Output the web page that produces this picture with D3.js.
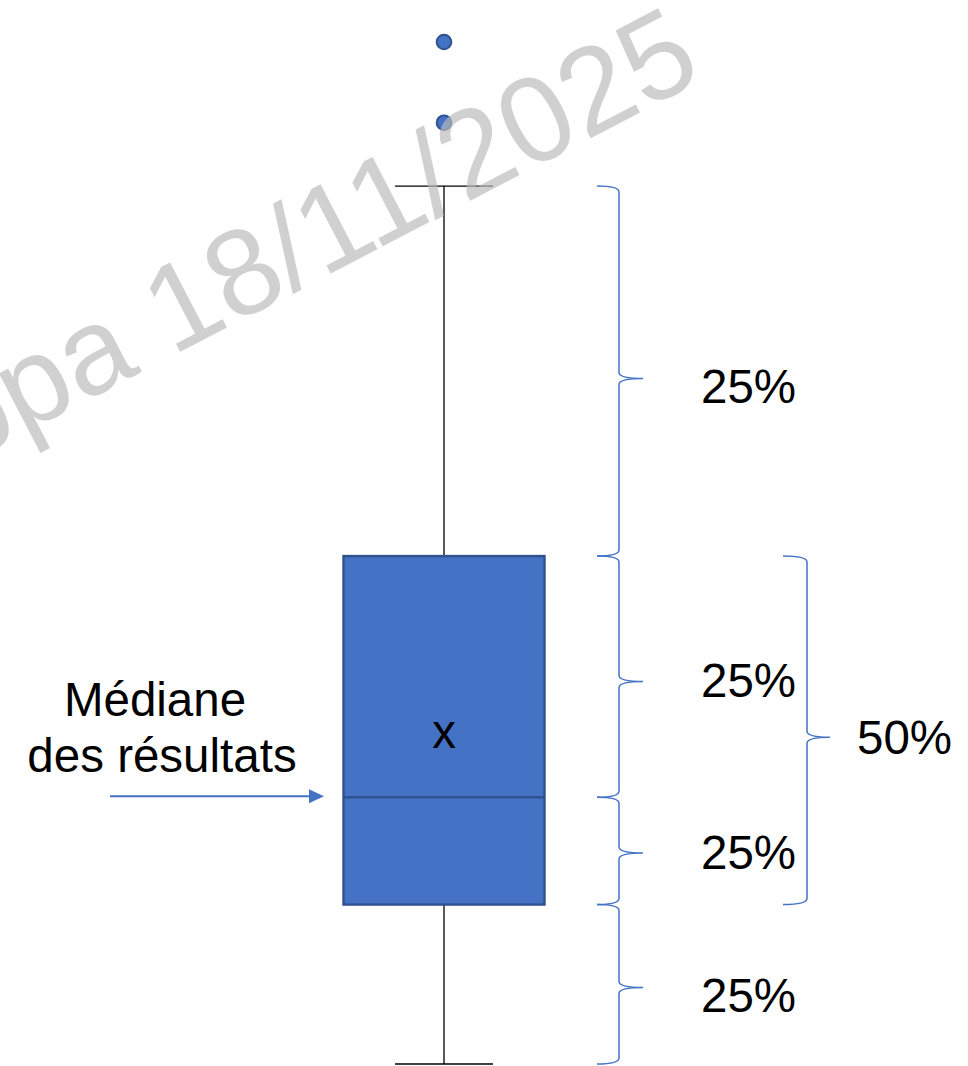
<!DOCTYPE html>
<html>
<head>
<meta charset="utf-8">
<script src="https://cdn.jsdelivr.net/npm/d3@7"></script>
<style>
  body { margin: 0; background: #fff; }
  text { font-family: "Liberation Sans", Arial, sans-serif; }
</style>
</head>
<body>
<div id="chart"></div>
<script>
// data (arbitrary score units, 0-100)
var fiveNumbers = [0, 15.6, 26.1, 49.7, 85.9]; // min, q1, median, q3, max
var meanValue = 32.2;
var outliers = [92.1, 100];
var quarterLabels = ["25%", "25%", "25%", "25%"];
var middleLabel = "50%";
var medianLabel = ["Médiane", "des résultats"];
var watermarkPrefix = "Poppa\u00a0";
var watermarkText = "18/11/2025";

var svgWidth = 968;
var svgHeight = 1066;

var svg = d3.select("#chart")
  .append("svg")
  .attr("width", svgWidth)
  .attr("height", svgHeight);

var blue = "#4472C4";
var darkBlue = "#2F528F";
var fontSize = "47.5px";

// step 1: scales
var yScale = d3.scaleLinear()
  .domain([0, 100])
  .range([1064, 42]);

var xCenter = 444;
var boxHalf = 100.5;
var capHalf = 49;
var tipAt = 0.52; // braces point a bit below their middle

// step 2: braces (one per quarter, one for the box)
function brace(x0, xv, xt, y0, y1) {
  var ym = y0 + (y1 - y0) * tipAt;
  var r = 6;
  var p = d3.path();
  p.moveTo(x0, y0);
  p.quadraticCurveTo(xv, y0, xv, y0 + r);
  p.lineTo(xv, ym - r);
  p.quadraticCurveTo(xv, ym, xt, ym);
  p.quadraticCurveTo(xv, ym, xv, ym + r);
  p.lineTo(xv, y1 - r);
  p.quadraticCurveTo(xv, y1, x0, y1);
  return p.toString();
}

var quarters = d3.range(4).map(function(i) {
  return { hi: fiveNumbers[4 - i], lo: fiveNumbers[3 - i], label: quarterLabels[i], outer: i === 0 || i === 3 };
});

svg.selectAll(".quarter")
  .data(quarters)
  .enter()
  .append("path")
  .attr("class", "quarter")
  .attr("d", d => brace(597, 619, 643, yScale(d.hi), yScale(d.lo)))
  .attr("fill", "none")
  .attr("stroke", blue)
  .attr("stroke-width", 1.5);

svg.selectAll(".quarterText")
  .data(quarters)
  .enter()
  .append("text")
  .attr("class", "quarterText")
  .attr("x", 701)
  .attr("y", d => yScale(d.hi) + (yScale(d.lo) - yScale(d.hi)) * tipAt + (d.outer ? 25 : 16))
  .attr("font-size", fontSize)
  .attr("fill", "#000")
  .text(d => d.label);

var q3y = yScale(fiveNumbers[3]), q1y = yScale(fiveNumbers[1]);
svg.append("path")
  .attr("d", brace(783, 807, 830, q3y, q1y))
  .attr("fill", "none")
  .attr("stroke", blue)
  .attr("stroke-width", 1.5);

svg.append("text")
  .attr("x", 857)
  .attr("y", q3y + (q1y - q3y) * tipAt + 17)
  .attr("font-size", fontSize)
  .text(middleLabel);

// step 3: whiskers
var whiskers = [[fiveNumbers[4], fiveNumbers[3]], [fiveNumbers[1], fiveNumbers[0]]];
svg.selectAll(".whisker")
  .data(whiskers)
  .enter()
  .append("line")
  .attr("class", "whisker")
  .attr("x1", xCenter).attr("x2", xCenter)
  .attr("y1", d => yScale(d[0]))
  .attr("y2", d => yScale(d[1]))
  .attr("stroke", "#000")
  .attr("stroke-width", 1.3);

svg.selectAll(".cap")
  .data([fiveNumbers[0], fiveNumbers[4]])
  .enter()
  .append("line")
  .attr("class", "cap")
  .attr("x1", xCenter - capHalf).attr("x2", xCenter + capHalf)
  .attr("y1", d => yScale(d)).attr("y2", d => yScale(d))
  .attr("stroke", "#000")
  .attr("stroke-width", 1.3);

// step 4: box + median
svg.append("rect")
  .attr("x", xCenter - boxHalf)
  .attr("y", q3y)
  .attr("width", boxHalf * 2)
  .attr("height", q1y - q3y)
  .attr("fill", blue)
  .attr("stroke", darkBlue)
  .attr("stroke-width", 2.4);

svg.append("line")
  .attr("x1", xCenter - boxHalf).attr("x2", xCenter + boxHalf)
  .attr("y1", yScale(fiveNumbers[2])).attr("y2", yScale(fiveNumbers[2]))
  .attr("stroke", darkBlue)
  .attr("stroke-width", 2.4);

// mean marker
svg.append("text")
  .attr("x", xCenter)
  .attr("y", yScale(meanValue) + 13)
  .attr("text-anchor", "middle")
  .attr("font-size", fontSize)
  .text("x");

// step 5: outliers
svg.selectAll(".outlier")
  .data(outliers)
  .enter()
  .append("circle")
  .attr("class", "outlier")
  .attr("cx", xCenter)
  .attr("cy", d => yScale(d))
  .attr("r", 7.3)
  .attr("fill", blue)
  .attr("stroke", darkBlue)
  .attr("stroke-width", 2);

// step 6: median arrow + label
var ym = yScale(fiveNumbers[2]) - 1;
svg.append("line")
  .attr("x1", 110).attr("x2", 310)
  .attr("y1", ym).attr("y2", ym)
  .attr("stroke", blue)
  .attr("stroke-width", 2);
svg.append("path")
  .attr("d", `M309,${ym - 7} L324,${ym} L309,${ym + 7} Z`)
  .attr("fill", blue);

svg.selectAll(".medText")
  .data(medianLabel)
  .enter()
  .append("text")
  .attr("class", "medText")
  .attr("x", (d, i) => i === 0 ? 155 : 162)
  .attr("y", (d, i) => 716 + i * 56)
  .attr("text-anchor", "middle")
  .attr("font-size", fontSize)
  .text(d => d);

// step 7: watermark on top
var wm = svg.append("g")
  .attr("transform", "translate(172, 356) rotate(-27.5)")
  .attr("fill", "#bbbbbb")
  .attr("opacity", 0.68)
  .attr("font-size", "122px");
wm.append("text").attr("text-anchor", "end").text(watermarkPrefix);
wm.append("text").attr("text-anchor", "start").text(watermarkText);
</script>
</body>
</html>
